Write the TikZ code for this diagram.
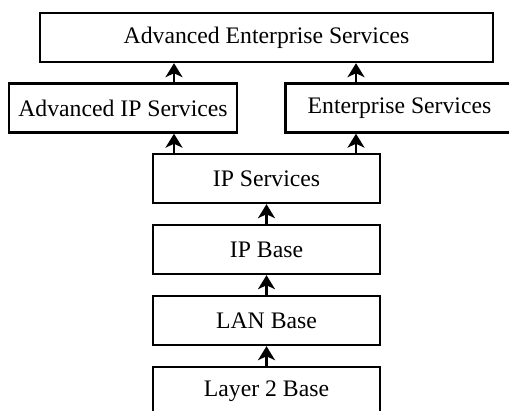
\documentclass[tikz,border=0pt]{standalone}
\usepackage{fontspec}
\setmainfont{Liberation Serif}
\usepackage{tikz}
\usetikzlibrary{arrows.meta}

\begin{document}
\begin{tikzpicture}[x=1pt,y=1pt]
    \tikzstyle{pkg} = [draw, line width=2.4pt, minimum height=49pt, inner sep=0pt, font=\fontsize{23.7}{28}\selectfont]
    \tikzstyle{up} = [line width=2.6pt, -{Stealth[length=14pt,width=17pt,inset=4pt]}]
    \useasboundingbox (0,0) rectangle (509,411);
    \node[pkg, minimum width=453pt] (aes) at (266.5,373.5) {Advanced Enterprise Services};
    \node[pkg, minimum width=228pt] (aips) at (123,303) {Advanced IP Services};
    \node[pkg, minimum width=228pt] (es) at (399.5,303) {Enterprise Services};
    \foreach \name/\txt [count=\i] in {ips/IP Services, ipb/IP Base, lanb/LAN Base, l2b/Layer 2 Base} {
        \node[pkg, minimum width=227pt] (\name) at (266.5,{232.5-71*(\i-1)}) {\txt};
    }
    \coordinate (la) at (174,0);
    \coordinate (ra) at (356,0);
    \foreach \a/\b in {l2b/lanb, lanb/ipb, ipb/ips} {
        \draw[up] (\a.north) -- (\b.south);
    }
    \draw[up] (ips.north -| la) -- (aips.south -| la);
    \draw[up] (ips.north -| ra) -- (es.south -| ra);
    \draw[up] (aips.north -| la) -- (aes.south -| la);
    \draw[up] (es.north -| ra) -- (aes.south -| ra);
\end{tikzpicture}
\end{document}
